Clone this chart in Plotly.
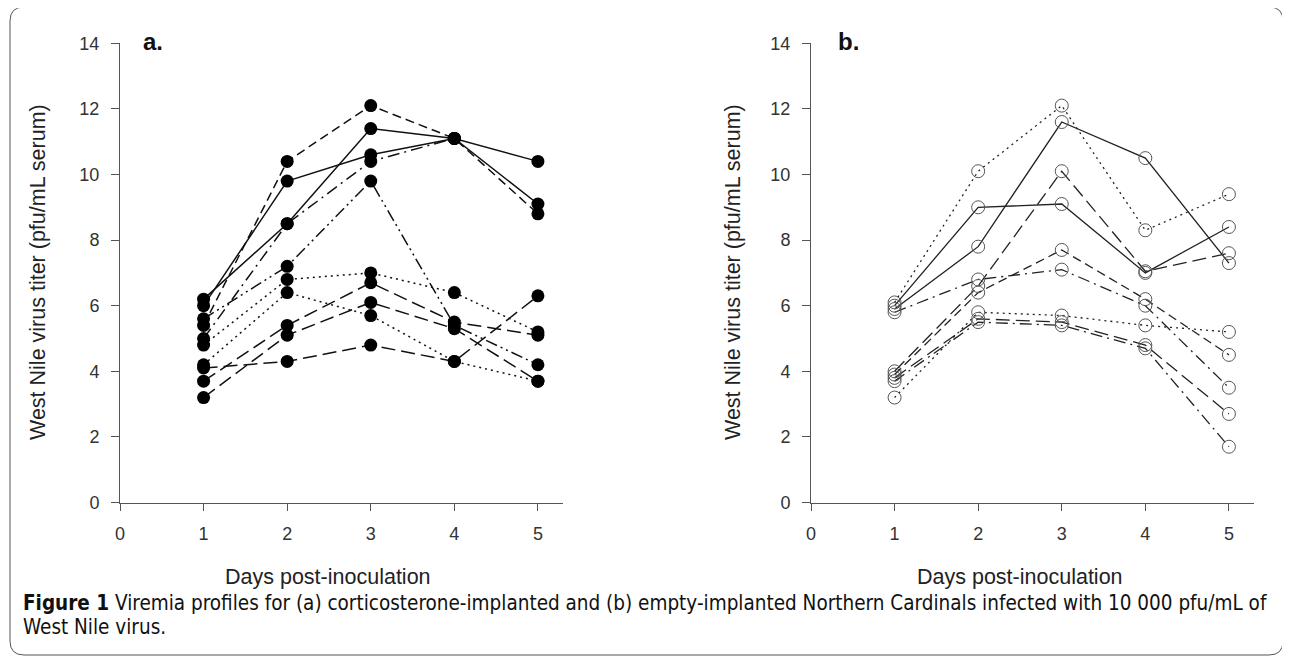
import plotly.graph_objects as go

# ---------------- data ----------------
days = [1, 2, 3, 4, 5]
x_ticks = [0, 1, 2, 3, 4, 5]
y_ticks = [0, 2, 4, 6, 8, 10, 12, 14]

# Panel a: corticosterone-implanted birds
a_bird1 = [5.4, 10.4, 12.1, 11.1, 8.8]
a_bird2 = [6.0, 9.8, 10.6, 11.1, 10.4]
a_bird3 = [6.2, 8.5, 11.4, 11.1, 9.1]
a_bird4 = [5.0, 8.5, 10.4, 11.1, None]
a_bird5 = [5.6, 7.2, 9.8, 5.4, 4.2]
a_bird6 = [4.8, 6.8, 7.0, 6.4, 5.2]
a_bird7 = [4.2, 6.4, 5.7, 4.3, 3.7]
a_bird8 = [3.7, 5.4, 6.7, 5.5, 5.1]
a_bird9 = [3.2, 5.1, 6.1, 5.3, 3.7]
a_bird10 = [4.1, 4.3, 4.8, 4.3, 6.3]

# Panel b: empty-implanted birds
b_bird1 = [6.1, 10.1, 12.1, 8.3, 9.4]
b_bird2 = [5.9, 7.8, 11.6, 10.5, 7.3]
b_bird3 = [6.0, 9.0, 9.1, 7.0, 8.4]
b_bird4 = [4.0, 6.6, 10.1, 7.05, 7.6]
b_bird5 = [3.9, 6.4, 7.7, 6.2, 4.5]
b_bird6 = [5.8, 6.8, 7.1, 6.0, 3.5]
b_bird7 = [3.2, 5.8, 5.7, 5.4, 5.2]
b_bird8 = [3.8, 5.6, 5.5, 4.8, 2.7]
b_bird9 = [3.7, 5.5, 5.4, 4.7, 1.7]

a_series = [a_bird1, a_bird2, a_bird3, a_bird4, a_bird5,
            a_bird6, a_bird7, a_bird8, a_bird9, a_bird10]
b_series = [b_bird1, b_bird2, b_bird3, b_bird4, b_bird5,
            b_bird6, b_bird7, b_bird8, b_bird9]

# ---------------- styles ----------------
DOT = "2px,4px"
DASH = "9px,5px"
LDASH = "14px,6px"
DASHDOT = "12px,5px,2px,5px"
DASHDOTDOT = "12px,4px,2px,4px,2px,4px"

a_dash = [DASH, "solid", "solid", DASHDOT, DASHDOTDOT,
          DOT, DOT, LDASH, LDASH, LDASH]
b_dash = [DOT, "solid", "solid", LDASH, DASH,
          DASHDOT, DOT, LDASH, DASHDOT]

# page body has an 8px margin: figure is placed at (8, 8) in the window
OFF = 8
W, H = 1290 - OFF, 662 - OFF
def px(x):
    return (x - OFF) / W
def py(y):
    return 1 - (y - OFF) / H

fig = go.Figure()

# panel a lines
for s, d in zip(a_series, a_dash):
    fig.add_trace(go.Scatter(x=days, y=s, mode="lines", xaxis="x", yaxis="y",
                             line=dict(color="#111111", width=1.5, dash=d),
                             hoverinfo="skip", showlegend=False))
for s in a_series:
    fig.add_trace(go.Scatter(x=days, y=s, mode="markers", xaxis="x", yaxis="y",
                             marker=dict(color="#000000", size=13, symbol="circle",
                                         line=dict(width=0)),
                             showlegend=False, cliponaxis=False))

# panel b lines
for s, d in zip(b_series, b_dash):
    fig.add_trace(go.Scatter(x=days, y=s, mode="lines", xaxis="x2", yaxis="y2",
                             line=dict(color="#222222", width=1.3, dash=d),
                             hoverinfo="skip", showlegend=False))
for s in b_series:
    fig.add_trace(go.Scatter(x=days, y=s, mode="markers", xaxis="x2", yaxis="y2",
                             marker=dict(color="#555555", size=13, symbol="circle-open",
                                         line=dict(width=1)),
                             showlegend=False, cliponaxis=False))

tick_font = dict(family="Liberation Sans, Arial, sans-serif", size=18, color="#333333")
common_x = dict(range=[0, 5.3], tickmode="array", tickvals=x_ticks, ticks="outside",
                ticklen=7, tickcolor="#555555", showline=True, linecolor="#555555",
                linewidth=1, showgrid=False, zeroline=False, tickfont=tick_font,
                ticklabelstandoff=8, automargin=False)
common_y = dict(range=[0, 14], tickmode="array", tickvals=y_ticks, ticks="outside",
                ticklen=8, tickcolor="#555555", showline=True, linecolor="#555555",
                linewidth=1, showgrid=False, zeroline=False, tickfont=tick_font,
                ticklabelstandoff=8, automargin=False)

ydom = [py(502.5), py(43.3)]
fig.update_layout(
    width=W, height=H,
    margin=dict(l=0, r=0, t=0, b=0, pad=0, autoexpand=False),
    paper_bgcolor="white", plot_bgcolor="white",
    xaxis=dict(domain=[px(120), px(563)], anchor="y", **common_x),
    yaxis=dict(domain=ydom, anchor="x", **common_y),
    xaxis2=dict(domain=[px(811), px(1254)], anchor="y2", **common_x),
    yaxis2=dict(domain=ydom, anchor="x2", **common_y),
)

title_font = dict(family="Liberation Sans, Arial, sans-serif", size=21.5, color="#222222")
cap_font = dict(family="DejaVu Sans Condensed, sans-serif", size=20.5, color="#111111")
ann = [
    dict(text="West Nile virus titer (pfu/mL serum)", x=px(38), y=py(272), textangle=-90,
         font=title_font),
    dict(text="West Nile virus titer (pfu/mL serum)", x=px(733), y=py(272), textangle=-90,
         font=title_font),
    dict(text="Days post-inoculation", x=px(328), y=py(577), font=title_font),
    dict(text="Days post-inoculation", x=px(1020), y=py(577), font=title_font),
    dict(text="<b>a.</b>", x=px(153), y=py(41), font=dict(family="Liberation Sans, Arial", size=24, color="#111111")),
    dict(text="<b>b.</b>", x=px(848), y=py(41), font=dict(family="Liberation Sans, Arial", size=24, color="#111111")),
    dict(text="<b>Figure 1</b> Viremia profiles for (a) corticosterone-implanted and (b) empty-implanted Northern Cardinals infected with 10 000 pfu/mL of",
         x=px(21), y=py(603), xanchor="left", font=cap_font),
    dict(text="West Nile virus.", x=px(21), y=py(627), xanchor="left", font=cap_font),
]
for a in ann:
    a.setdefault("xanchor", "center")
    a.update(xref="paper", yref="paper", yanchor="middle", showarrow=False)
fig.update_layout(annotations=ann)

# rounded border
x0, x1, y0, y1, r = px(10), px(1283), py(7), py(655), 14
rx, ry = r / W, r / H
path = (f"M {x0+rx},{y0} L {x1-rx},{y0} Q {x1},{y0} {x1},{y0-ry} "
        f"L {x1},{y1+ry} Q {x1},{y1} {x1-rx},{y1} L {x0+rx},{y1} "
        f"Q {x0},{y1} {x0},{y1+ry} L {x0},{y0-ry} Q {x0},{y0} {x0+rx},{y0} Z")
fig.add_shape(type="path", path=path, xref="paper", yref="paper",
              line=dict(color="#555555", width=1))

fig.write_html("out.html", config={"displayModeBar": False})
